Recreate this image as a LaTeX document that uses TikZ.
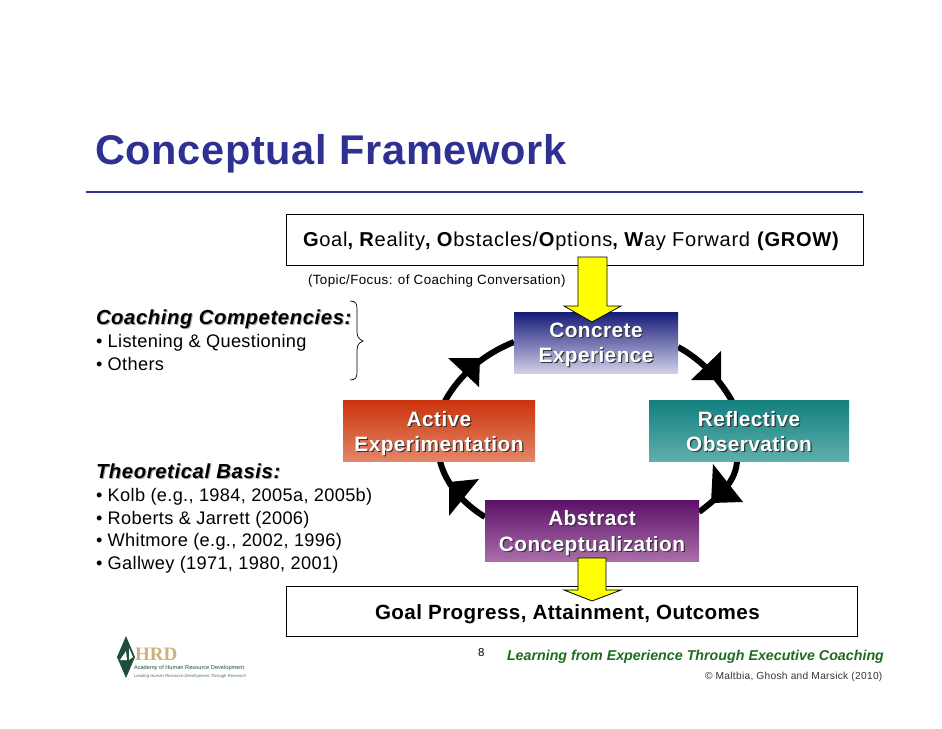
\documentclass[tikz,border=0pt]{standalone}
\usepackage{fontspec}
\setmainfont{Liberation Sans}
\newfontfamily\serifface{Liberation Serif}
\usetikzlibrary{calc}
\definecolor{titleblue}{HTML}{2E3192}
\definecolor{footgreen}{HTML}{1E6B1E}
\definecolor{logogreen}{HTML}{1F4F3C}
\definecolor{logotan}{HTML}{CDB27C}
\definecolor{arrowyellow}{RGB}{255,255,0}
\newcommand{\fs}[1]{\fontsize{#1}{#1}\selectfont}
\newcommand{\ls}[1]{\addfontfeatures{LetterSpace=#1}}
\tikzset{
 x=1pt,y=-1pt,
 lbl/.style={anchor=base west,inner sep=0pt,outer sep=0pt,text=black},
 bodytxt/.style={lbl,font=\fs{18.2}\ls{1.8}},
 headtxt/.style={lbl,font=\fs{20.3}\bfseries\itshape\ls{2.9}},
 plainbox/.style={draw=black,line width=.9pt,fill=white,inner sep=0pt,outer sep=0pt,anchor=north west},
 stagebox/.style={anchor=north west,inner sep=0pt,outer sep=0pt,shading=axis,shading angle=0,minimum height=61pt},
 stagetext/.style={anchor=base,inner sep=0pt,align=center,font=\fs{20.8}\bfseries\ls{2.1},text=white},
 stageshadow/.style={anchor=base,inner sep=0pt,align=center,font=\fs{20.8}\bfseries\ls{2.1},text=black!80},
 ring/.style={draw=black,line width=6pt},
 tip/.style={fill=black,draw=none},
 yarrow/.style={fill=arrowyellow,draw=black,line width=.8pt,line join=miter},
}
\begin{document}
\begin{tikzpicture}
\useasboundingbox[fill=white] (0,0) rectangle (942,728);
% title
\node[lbl,text=titleblue,font=\fs{41.5}\bfseries\ls{1.7}] (title) at (95,164) {Conceptual Framework};
\coordinate (ruleL) at (86,192); \coordinate (ruleR) at (863,192);
\draw[titleblue,line width=2.6pt] (ruleL) -- (ruleR);
% top and bottom boxes
\node[plainbox,minimum width=577pt,minimum height=51pt] (grow) at (286,214) {};
\node[plainbox,minimum width=571pt,minimum height=50pt] (goal) at (286,586) {};
\node[lbl,font=\fs{20.1}\ls{3.5}] (growt) at (303,246) {\textbf{G}oal\textbf{, R}eality\textbf{, O}bstacles/\textbf{O}ptions\textbf{, W}ay Forward \textbf{(GROW)}};
\node[lbl,font=\fs{13.4}\ls{3}] (topic) at (308,284) {(Topic/Focus: of Coaching Conversation)};
\node[lbl,font=\fs{20.6}\bfseries\ls{2}] (goalt) at (375,619) {Goal Progress, Attainment, Outcomes};
% ring
\coordinate (a1) at (514,342); \coordinate (a2) at (445,401);
\coordinate (b1) at (678,347); \coordinate (b2) at (732,401);
\coordinate (c1) at (737,461); \coordinate (c2) at (699,512);
\coordinate (d1) at (485,517); \coordinate (d2) at (440,461);
\draw[ring] (a1) .. controls (484,354) and (460,374) .. (a2);
\draw[ring] (b1) .. controls (702,360) and (720,380) .. (b2);
\draw[ring] (c1) .. controls (736,480) and (722,495) .. (c2);
\draw[ring] (d1) .. controls (464,504) and (446,485) .. (d2);
\fill[tip] (448,358) -- (480,358) -- (479,387) -- cycle;
\fill[tip] (721,351) -- (721,380) -- (691,380) -- cycle;
\fill[tip] (713,464) -- (743,502) -- (711,503) -- cycle;
\fill[tip] (479,479) -- (449,482) -- (449,516) -- cycle;
% stage boxes
\node[stagebox,top color={rgb,255:red,22;green,26;blue,120},bottom color={rgb,255:red,208;green,208;blue,232},minimum width=164pt] (ce) at (514,312) {};
\node[stagebox,top color={rgb,255:red,203;green,51;blue,12},bottom color={rgb,255:red,227;green,134;blue,104},minimum width=192pt] (ae) at (343,400) {};
\node[stagebox,top color={rgb,255:red,19;green,128;blue,126},bottom color={rgb,255:red,94;green,175;blue,172},minimum width=200pt] (ro) at (649,400) {};
\node[stagebox,top color={rgb,255:red,93;green,16;blue,105},bottom color={rgb,255:red,170;green,110;blue,170},minimum width=214pt] (ac) at (485,500) {};
% stage labels
\foreach \n/\xc/\ya/\yb/\la/\lb in {ce/596/337/362/Concrete/Experience,ae/439/426/451/Active/Experimentation,ro/749/426/451/Reflective/Observation,ac/592/525/551/Abstract/Conceptualization}{
  \node[stageshadow] (\n s1) at (\xc+1.2,\ya+1.2) {\la};
  \node[stageshadow] (\n s2) at (\xc+1.2,\yb+1.2) {\lb};
  \node[stagetext] (\n t1) at (\xc,\ya) {\la};
  \node[stagetext] (\n t2) at (\xc,\yb) {\lb};
}
% yellow arrows
\draw[yarrow] (578,257) -- (607,257) -- (607,306) -- (621,306) -- (592,322) -- (564,306) -- (578,306) -- cycle;
\draw[yarrow] (578,558) -- (606,558) -- (606,590) -- (621,590) -- (592,601) -- (564,590) -- (578,590) -- cycle;
% left column
\foreach \nm/\xx/\yy/\t in {cc/96/324/Coaching Competencies:,tb/96/478/Theoretical Basis:}{
  \node[headtxt,text=black!35,xshift=1pt,yshift=-1pt] (\nm s) at (\xx,\yy) {\t};
  \node[headtxt] (\nm) at (\xx,\yy) {\t};
}
\node[bodytxt] (l1) at (96,347) {• Listening \& Questioning};
\node[bodytxt] (l2) at (96,370) {• Others};
\node[bodytxt] (t1) at (96,501) {• Kolb (e.g., 1984, 2005a, 2005b)};
\node[bodytxt] (t2) at (96,524) {• Roberts \& Jarrett (2006)};
\node[bodytxt] (t3) at (96,546) {• Whitmore (e.g., 2002, 1996)};
\node[bodytxt] (t4) at (96,569) {• Gallwey (1971, 1980, 2001)};
% brace
\draw[black,line width=.7pt] (350,301) .. controls (356,301) and (357,304) .. (357,309) -- (357,332) .. controls (357,337) and (359,339) .. (363,341) .. controls (359,343) and (357,345) .. (357,350) -- (357,372) .. controls (357,377) and (356,380) .. (350,380);
% footer
\node[lbl,font=\fs{11.5}] (pg) at (478,656) {8};
\node[lbl,font=\fs{14.25}\bfseries\itshape,text=footgreen] (foot) at (507,660) {Learning from Experience Through Executive Coaching};
\node[lbl,font=\fs{10.2}\ls{2.8},text=black!80] (copy) at (705,679) {© Maltbia, Ghosh and Marsick (2010)};
% logo
\fill[logogreen] (126,636) -- (135,657) -- (126,678) -- (117,657) -- cycle;
\fill[white] (129,648) -- (133,657) -- (129,660) -- cycle;
\fill[white] (120,660) -- (126,651) -- (127,660) -- cycle;
\node[lbl,font=\serifface\fs{19}\bfseries,text=logotan] (hrd) at (135,660) {HRD};
\node[lbl,font=\fs{5.65},text=logogreen] (acad) at (134,669) {Academy of Human Resource Development};
\node[lbl,font=\fs{4.25}\itshape,text=logogreen!80] (lead) at (134,677) {Leading Human Resource Development Through Research};
\end{tikzpicture}
\end{document}
